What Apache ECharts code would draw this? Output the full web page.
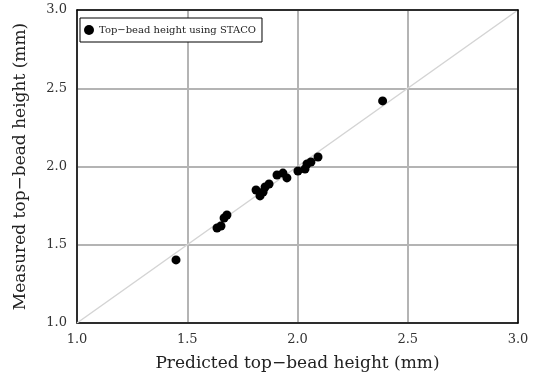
<!DOCTYPE html>
<html>
<head>
<meta charset="utf-8">
<script src="https://cdn.jsdelivr.net/npm/echarts@6/dist/echarts.min.js"></script>
<style>
  html, body { margin: 0; padding: 0; background: #ffffff; }
  #chart { width: 535px; height: 380px; }
</style>
</head>
<body>
<div id="chart"></div>
<script>
// predicted vs measured top-bead height (mm)
const predicted = [1.449, 1.635, 1.653, 1.667, 1.680, 1.812, 1.830, 1.844, 1.853, 1.871,
  1.907, 1.934, 1.952, 2.002, 2.034, 2.043, 2.061, 2.093, 2.386];
const measured = [1.403, 1.607, 1.620, 1.671, 1.690, 1.850, 1.812, 1.837, 1.869, 1.888,
  1.946, 1.958, 1.927, 1.971, 1.984, 2.016, 2.029, 2.061, 2.419];
const refLine = [[1.0, 1.0], [3.0, 3.0]];
const axisTicks = [1.0, 1.5, 2.0, 2.5, 3.0];
const seriesName = 'Top\u2212bead height using STACO';

const serif = '"DejaVu Serif", "Liberation Serif", serif';

const points = predicted.map((p, i) => [p, measured[i]]);

const chart = echarts.init(document.getElementById('chart'), null, { renderer: 'canvas' });

const axisCommon = {
  type: 'value',
  min: axisTicks[0],
  max: axisTicks[axisTicks.length - 1],
  interval: axisTicks[1] - axisTicks[0],
  axisLine: { show: true, lineStyle: { color: '#000', width: 1.5 } },
  axisTick: { show: false },
  axisLabel: {
    fontFamily: serif,
    fontSize: 13,
    color: '#333',
    margin: 10,
    formatter: (v) => v.toFixed(1),
  },
  splitLine: { show: true, lineStyle: { color: '#b4b4b4', width: 2 } },
  nameLocation: 'middle',
  nameTextStyle: { fontFamily: serif, fontSize: 17, color: '#222' },
};

// top / right axes only close the black frame
const frameAxis = {
  type: 'value',
  min: axisTicks[0],
  max: axisTicks[axisTicks.length - 1],
  interval: axisTicks[1] - axisTicks[0],
  axisLine: { show: true, lineStyle: { color: '#000', width: 1.5 } },
  axisTick: { show: false },
  axisLabel: { show: false },
  splitLine: { show: false },
  z: 5,
};

chart.setOption({
  backgroundColor: '#ffffff',
  animation: false,
  grid: {
    left: 77,
    right: 17,
    top: 10,
    bottom: 57,
  },
  legend: {
    data: [{ name: seriesName, icon: 'circle' }],
    left: 80,
    top: 18,
    orient: 'vertical',
    itemWidth: 10,
    itemHeight: 10,
    itemGap: 4,
    padding: [7, 6, 7, 4],
    borderColor: '#000',
    borderWidth: 1,
    backgroundColor: '#fff',
    textStyle: { fontFamily: serif, fontSize: 10, color: '#222' },
  },
  xAxis: [
    Object.assign({}, axisCommon, {
      name: 'Predicted top\u2212bead height (mm)',
      nameGap: 32,
    }),
    Object.assign({}, frameAxis, { position: 'top' }),
  ],
  yAxis: [
    Object.assign({}, axisCommon, {
      name: 'Measured top\u2212bead height (mm)',
      nameGap: 48,
    }),
    Object.assign({}, frameAxis, { position: 'right' }),
  ],
  series: [
    {
      name: 'ref',
      type: 'line',
      data: refLine,
      symbol: 'none',
      silent: true,
      lineStyle: { color: '#d4d4d4', width: 1.5 },
      z: 1,
    },
    {
      name: seriesName,
      type: 'scatter',
      data: points,
      symbol: 'circle',
      symbolSize: 9,
      itemStyle: { color: '#000', opacity: 1 },
      z: 3,
    },
  ],
});
</script>
</body>
</html>
